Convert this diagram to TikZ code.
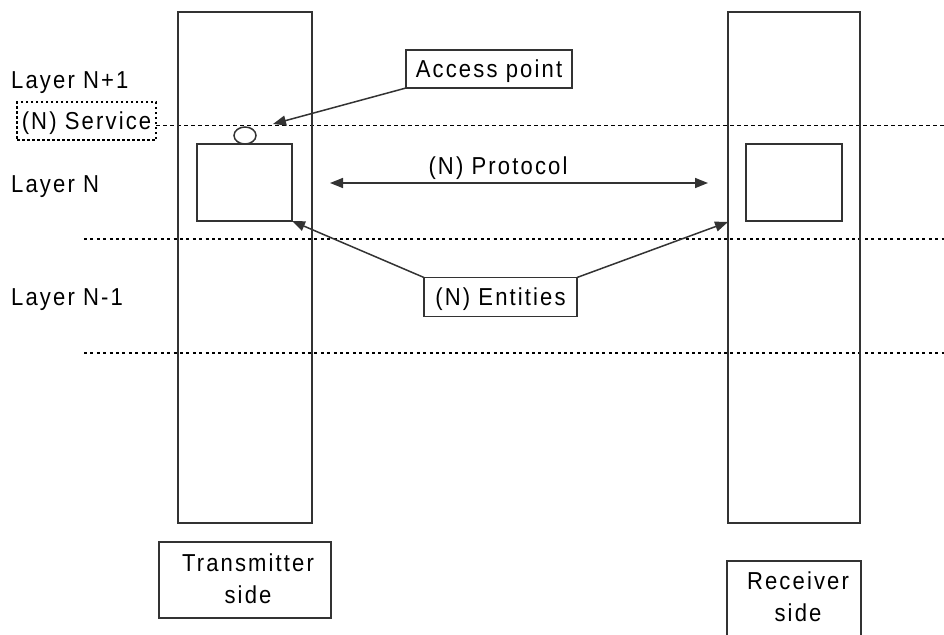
\documentclass[tikz,border=0pt]{standalone}
\usepackage{fontspec}
\setmainfont{Liberation Sans}[LetterSpace=8.7, FakeStretch=0.9]
\usetikzlibrary{arrows.meta,shapes.geometric}
\definecolor{linegray}{HTML}{333333}
\tikzset{
  every node/.style={font=\fontsize{24.5}{32}\selectfont, text=black},
  column/.style={draw=linegray, line width=1.4pt, inner sep=0pt, outer sep=0pt},
  entity/.style={draw=linegray, line width=2pt, inner sep=0pt, outer sep=0pt},
  tagbox/.style={draw=linegray, line width=1.8pt, inner sep=0pt, outer sep=0pt,
                 text height=17.5pt, text depth=0pt},
  servicebox/.style={draw=black, line width=1.3pt, dash pattern=on 2.5pt off 2.5pt,
                 inner sep=0pt, outer sep=0pt, text height=17.5pt, text depth=0pt},
  sidebox/.style={draw=linegray, line width=1.8pt, inner sep=0pt, outer sep=0pt},
  layertext/.style={anchor=base west, inner sep=0pt},
  boundary/.style={draw=black, line width=1pt, dash pattern=on 4pt off 3pt},
  layerline/.style={draw=black, line width=2pt, dash pattern=on 3pt off 3.4pt},
  pointer/.style={draw=linegray, line width=1.5pt, -{Triangle[length=13pt,width=10pt]}},
  twoway/.style={draw=linegray, line width=1.5pt,
                 {Triangle[length=13pt,width=10pt]}-{Triangle[length=13pt,width=10pt]}},
}
\begin{document}
\begin{tikzpicture}[x=1pt,y=-1pt]
\clip (0,0) rectangle (944,634);

% layer boundaries
\draw[boundary] (156,125) -- (944,125);
\draw[layerline] (84,239) -- (944,239);
\draw[layerline] (84,353) -- (944,353);

% the two systems
\node[column, minimum width=134, minimum height=511] (lcol) at (245,267.5) {};
\node[column, minimum width=132, minimum height=511] (rcol) at (794,267.5) {};

% (N) entities inside each system
\node[entity, minimum width=95, minimum height=77] (lent) at (244.5,182.5) {};
\node[entity, minimum width=96, minimum height=77] (rent) at (794,182.5) {};

% service access point
\node[draw=linegray, line width=1.5pt, ellipse, inner sep=0pt, outer sep=0pt,
      minimum width=22, minimum height=17] (sap) at (245,135.5) {};

% layer names
\node[layertext] (lnp1) at (11,88) {Layer N+1};
\node[layertext] (ln) at (11,192) {Layer N};
\node[layertext] (lnm1) at (11,305) {Layer N-1};
\node[servicebox, minimum width=139, minimum height=38] (service) at (86.5,121) {(N) Service};

% labels
\node[tagbox, minimum width=166, minimum height=38] (access) at (489,69) {Access point};
\node[tagbox, minimum width=153, minimum height=39] (entities) at (500.5,297) {(N) Entities};
\node[inner sep=0pt, text height=17.5pt, text depth=0pt] (proto) at (498,165.5) {(N) Protocol};

% protocol between peer entities
\coordinate (protoL) at (330,183);
\coordinate (protoR) at (708,183);
\draw[twoway] (protoL) -- (protoR);

% pointers
\coordinate (saptip) at (273,124);
\draw[pointer] (access.south west) -- (saptip);
\draw[pointer] (entities.north west) -- (lent.south east);
\draw[pointer] (entities.north east) -- (rcol.west |- 0,222);

% sides
\node[sidebox, minimum width=172, minimum height=76] (txbox) at (245,580) {};
\node[align=center, inner sep=0pt] (txtext) at (248,578.5) {Transmitter\\side};
\node[sidebox, minimum width=134, minimum height=80] (rxbox) at (794,601) {};
\node[align=center, inner sep=0pt] (rxtext) at (798,597) {Receiver\\side};
\end{tikzpicture}
\end{document}
